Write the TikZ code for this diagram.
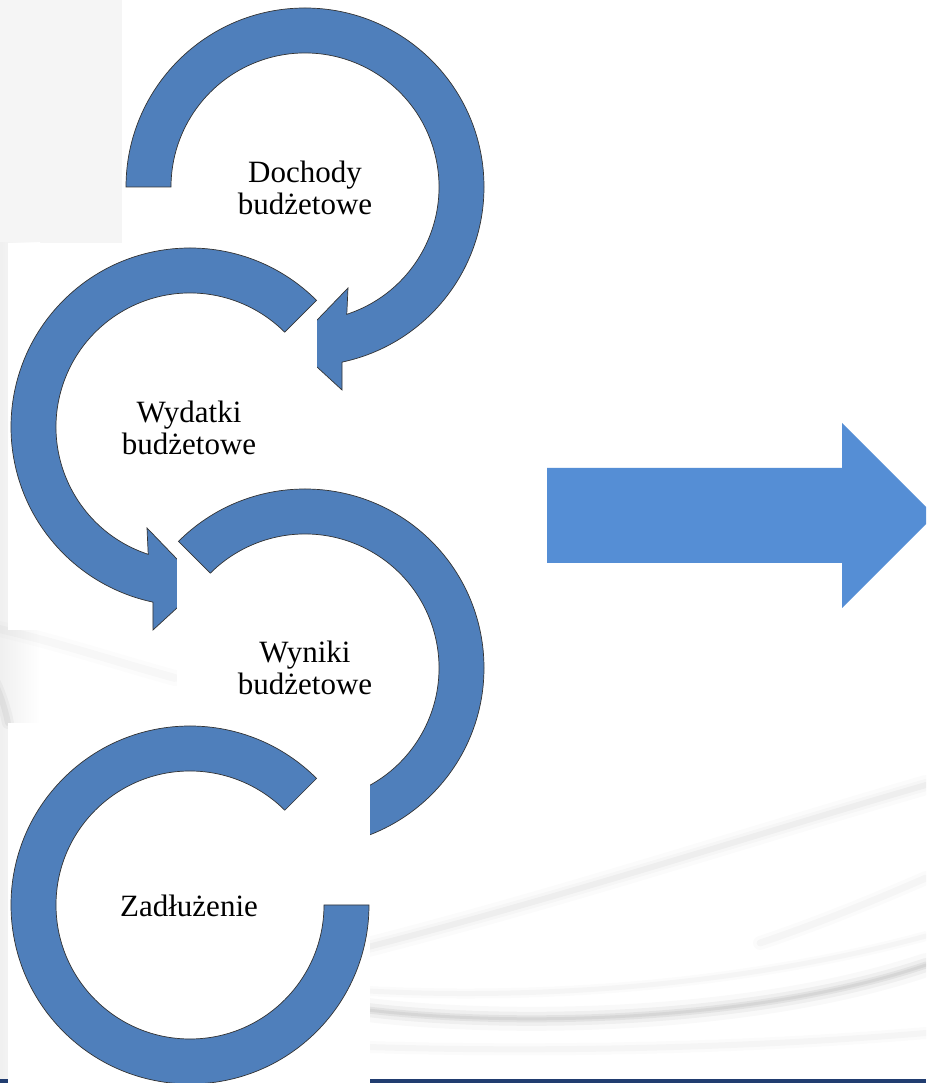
\documentclass[tikz,border=0pt]{standalone}
\usepackage{fontspec}
\setmainfont{Liberation Serif}
\definecolor{ringblue}{HTML}{4F7FBB}
\definecolor{bigblue}{HTML}{558ED5}
\definecolor{navyline}{HTML}{213D70}
% ring with arrowhead, local frame centred on the ring, start angle #1
\newcommand\ringArrowPath[1]{(#1:179) arc[start angle=#1, end angle=-78.06, radius=179] -- (37,-203) -- (-12,-158) -- (43,-101) -- (-71.83:134) arc[start angle=-71.83, end angle=#1, radius=134] -- cycle}
\begin{document}
\begin{tikzpicture}[x=1pt,y=1pt,
  ring/.style={fill=ringblue, draw=black!80, line width=0.7pt, line join=miter},
  card/.style={fill=white, draw=none},
  label/.style={font=\fontsize{31}{32}\selectfont, align=center, text=black, inner sep=0pt},
  bigarrow/.style={fill=bigblue, draw=none}]
\useasboundingbox (0,0) rectangle (926,1083);
\clip (0,0) rectangle (926,1083);

% ---------- slide background ----------
\fill[white] (0,0) rectangle (926,1083);
\fill[black!4] (0,840) rectangle (130,1083);
\shade[left color=black!6, right color=white] (0,0) rectangle (40,840);
% swooshes, bottom right
\foreach \w/\o in {20/0.015,12/0.02,6/0.03}
  \draw[black,opacity=\o,line width=\w pt,line cap=round] (368,136) .. controls (560,185) and (760,250) .. (926,298);
\foreach \w/\o in {24/0.025,14/0.04,7/0.05,3/0.05}
  \draw[black,opacity=\o,line width=\w pt,line cap=round] (368,73) .. controls (520,55) and (760,62) .. (926,118);
\foreach \w/\o in {10/0.015,5/0.025}
  \draw[black,opacity=\o,line width=\w pt,line cap=round] (368,92) .. controls (560,82) and (760,102) .. (926,147);
\foreach \w/\o in {14/0.015,7/0.025}
  \draw[black,opacity=\o,line width=\w pt,line cap=round] (760,140) .. controls (820,160) and (880,185) .. (926,205);
\foreach \w/\o in {12/0.015,6/0.025}
  \draw[black,opacity=\o,line width=\w pt,line cap=round] (368,36) .. controls (560,30) and (760,36) .. (926,50);
% swooshes, left
\foreach \w/\o in {16/0.012,8/0.02}
  \draw[black,opacity=\o,line width=\w pt,line cap=round] (-5,455) .. controls (60,440) and (120,420) .. (175,405);
\foreach \w/\o in {12/0.03,6/0.04}
  \draw[black,opacity=\o,line width=\w pt,line cap=round] (-5,400) .. controls (2,385) and (6,370) .. (8,360);
% bottom rule
\fill[navyline] (0,0) rectangle (926,3.5);

% ---------- Dochody budzetowe ----------
\fill[card] (122,840) rectangle (560,1083);
\begin{scope}[shift={(305,896)}]
  \draw[ring] \ringArrowPath{180};
\end{scope}
\node[label] (dochody) at (305,895) {Dochody\\budżetowe};

% ---------- Wydatki budzetowe ----------
\fill[card] (8,453) rectangle (317,840);
\begin{scope}[shift={(190,656)}, xscale=-1]
  \draw[ring] \ringArrowPath{135};
\end{scope}
\node[label] (wydatki) at (189,655) {Wydatki\\budżetowe};

% ---------- Wyniki budzetowe ----------
\fill[card] (177,238) rectangle (495,613);
\begin{scope}[shift={(305,415)}]
  \draw[ring] \ringArrowPath{135};
\end{scope}
\node[label] (wyniki) at (305,415) {Wyniki\\budżetowe};

% ---------- Zadluzenie ----------
\fill[card] (8,0) rectangle (370,360);
\draw[ring] (190,178) ++(45:179) arc[start angle=45, end angle=360, radius=179]
  -- ++(-45,0) arc[start angle=360, end angle=45, radius=134] -- cycle;
\node[label] (zadluzenie) at (189,177) {Zadłużenie};

% ---------- big arrow ----------
\fill[bigarrow] (547,520) -- (842,520) -- (842,475) -- (934.5,567.5)
  -- (842,660) -- (842,615) -- (547,615) -- cycle;
\end{tikzpicture}
\end{document}
